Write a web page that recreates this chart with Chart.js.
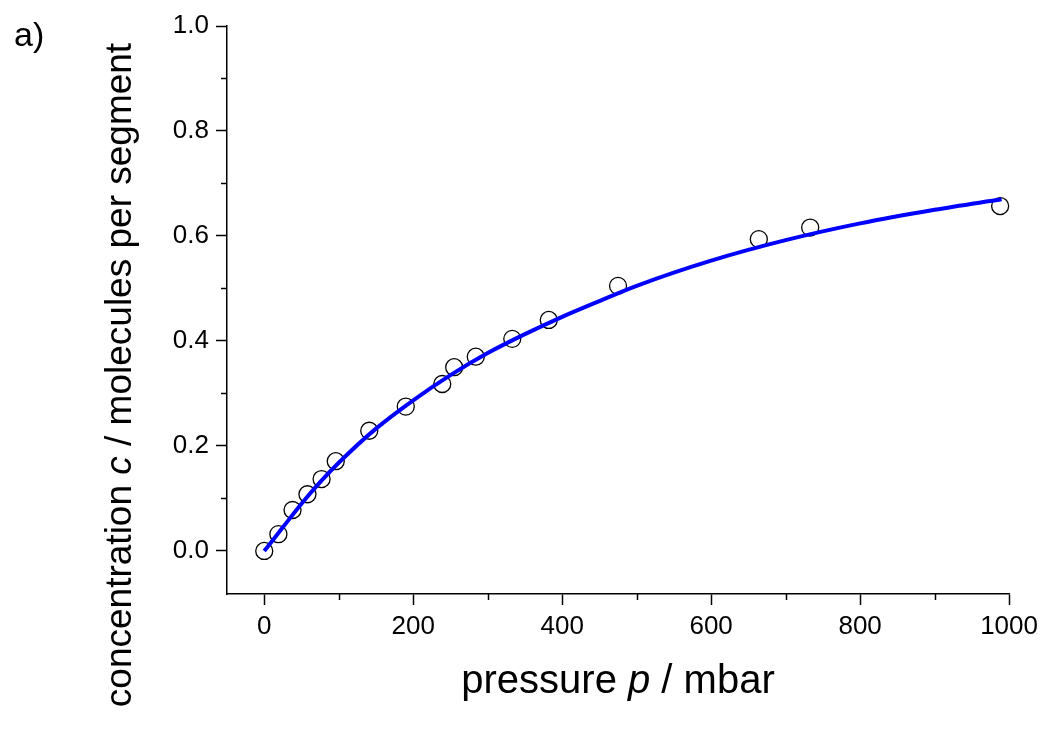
<!DOCTYPE html>
<html>
<head>
<meta charset="utf-8">
<script src="https://cdn.jsdelivr.net/npm/chart.js@4.4.0/dist/chart.umd.min.js"></script>
<style>
  html, body { margin: 0; padding: 0; background: #fff; }
</style>
</head>
<body>
<canvas id="chart" width="1044" height="733"></canvas>
<script>
// measured points (open circles)
const pressure = [0, 19, 38, 58, 77, 96, 141, 190, 239, 255, 284, 333, 382, 475, 664, 733, 988];
const concentration = [0.0, 0.032, 0.078, 0.108, 0.137, 0.171, 0.229, 0.275, 0.318, 0.350, 0.370, 0.404, 0.440, 0.505, 0.594, 0.616, 0.657];

// fitted curve (blue line)
const fitPressure = [0, 25, 50, 75, 100, 150, 200, 250, 300, 350, 400, 450, 500, 600, 700, 800, 900, 990];
const fitConcentration = [0.0, 0.045, 0.090, 0.131, 0.168, 0.233, 0.287, 0.335, 0.377, 0.413, 0.446, 0.476, 0.505, 0.553, 0.592, 0.624, 0.650, 0.670];

// axis ticks
const xTicks = [0, 200, 400, 600, 800, 1000];
const xMinorTicks = [100, 300, 500, 700, 900];
const yTicks = [0.0, 0.2, 0.4, 0.6, 0.8, 1.0];
const yMinorTicks = [0.1, 0.3, 0.5, 0.7, 0.9];

const FONT = "'Liberation Sans', Arial, Helvetica, sans-serif";

// text with an italic symbol in the middle
function drawRich(ctx, parts, x, y, size, rotate) {
    ctx.save();
    ctx.translate(x, y);
    if (rotate) ctx.rotate(-Math.PI / 2);
    ctx.textBaseline = 'alphabetic';
    ctx.textAlign = 'left';
    ctx.fillStyle = '#000';
    let total = 0;
    parts.forEach(p => {
        ctx.font = (p.italic ? 'italic ' : '') + size + 'px ' + FONT;
        p.w = ctx.measureText(p.text).width;
        total += p.w;
    });
    let cx = -total / 2;
    parts.forEach(p => {
        ctx.font = (p.italic ? 'italic ' : '') + size + 'px ' + FONT;
        ctx.fillText(p.text, cx, 0);
        cx += p.w;
    });
    ctx.restore();
}

const extras = {
    id: 'extras',
    afterDraw(chart) {
        const ctx = chart.ctx;
        const xs = chart.scales.x, ys = chart.scales.y;
        ctx.save();
        ctx.strokeStyle = '#000';
        ctx.lineWidth = 1.5;
        // minor ticks
        xMinorTicks.forEach(v => {
            const px = Math.round(xs.getPixelForValue(v)) + 0.5;
            ctx.beginPath();
            ctx.moveTo(px, xs.top);
            ctx.lineTo(px, xs.top + 6);
            ctx.stroke();
        });
        yMinorTicks.forEach(v => {
            const py = Math.round(ys.getPixelForValue(v)) + 0.5;
            ctx.beginPath();
            ctx.moveTo(ys.right, py);
            ctx.lineTo(ys.right - 6, py);
            ctx.stroke();
        });
        ctx.restore();

        // axis titles and panel label
        drawRich(ctx, [
            { text: 'pressure ' },
            { text: 'p', italic: true },
            { text: ' / mbar' }
        ], 618, 693, 40, false);
        drawRich(ctx, [
            { text: 'concentration ' },
            { text: 'c', italic: true },
            { text: ' / molecules per segment' }
        ], 131, 375, 37, true);

        ctx.save();
        ctx.fillStyle = '#000';
        ctx.font = '34px ' + FONT;
        ctx.textBaseline = 'alphabetic';
        ctx.fillText('a)', 14, 46);
        ctx.restore();
    }
};

const axisStyle = {
    grid: {
        display: true,
        drawOnChartArea: false,
        drawTicks: true,
        tickLength: 11,
        tickColor: '#000',
        tickWidth: 1.5
    },
    border: { display: true, color: '#000', width: 1.5 }
};

new Chart(document.getElementById('chart'), {
    type: 'line',
    data: {
        datasets: [
            {
                label: 'fit',
                data: fitPressure.map((p, i) => ({ x: p, y: fitConcentration[i] })),
                borderColor: '#0000ff',
                borderWidth: 4,
                pointRadius: 0,
                cubicInterpolationMode: 'monotone',
                fill: false,
                clip: false,
                order: 0
            },
            {
                label: 'data',
                data: pressure.map((p, i) => ({ x: p, y: concentration[i] })),
                showLine: false,
                pointStyle: 'circle',
                pointRadius: 8.5,
                pointBorderWidth: 1.3,
                pointBorderColor: '#000',
                pointBackgroundColor: 'rgba(0,0,0,0)',
                clip: false,
                order: 1
            }
        ]
    },
    options: {
        responsive: false,
        animation: false,
        layout: { padding: { left: 0, top: 26, right: 34, bottom: 0 } },
        plugins: {
            legend: { display: false },
            tooltip: { enabled: false }
        },
        scales: {
            x: {
                type: 'linear',
                min: -50,
                max: 1000,
                ...axisStyle,
                ticks: {
                    color: '#000',
                    font: { family: FONT, size: 26 },
                    padding: 6,
                    maxRotation: 0,
                    callback: v => String(v)
                },
                afterBuildTicks: s => { s.ticks = xTicks.map(v => ({ value: v })); },
                afterFit: s => { s.height = 139; }
            },
            y: {
                type: 'linear',
                min: -0.082,
                max: 1.0,
                ...axisStyle,
                ticks: {
                    color: '#000',
                    font: { family: FONT, size: 26 },
                    padding: 7,
                    callback: v => v.toFixed(1)
                },
                afterBuildTicks: s => { s.ticks = yTicks.map(v => ({ value: v })); },
                afterFit: s => { s.width = 227; }
            }
        }
    },
    plugins: [extras]
});
</script>
</body>
</html>
